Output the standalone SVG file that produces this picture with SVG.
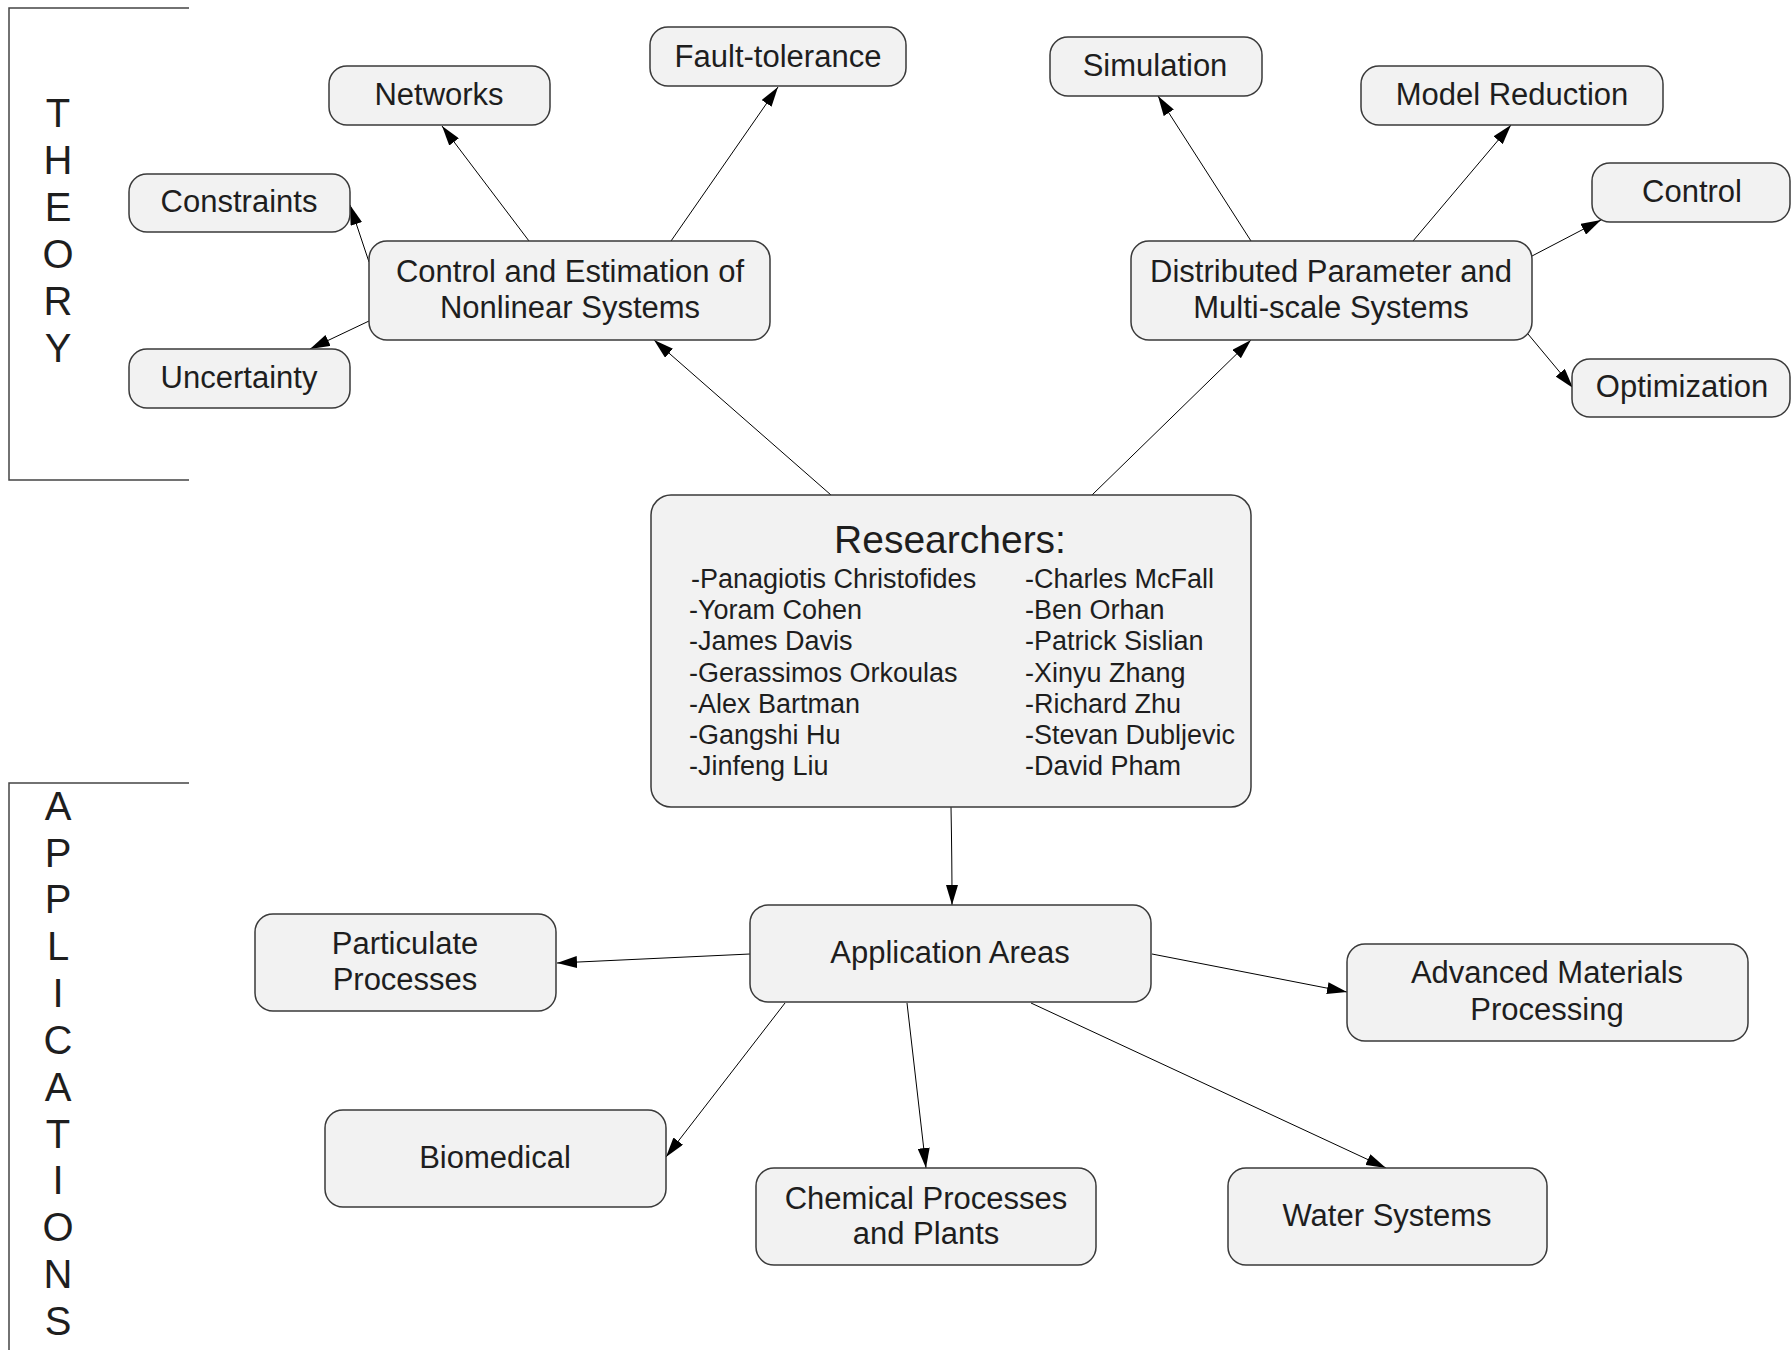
<svg xmlns="http://www.w3.org/2000/svg" width="1792" height="1350" viewBox="0 0 1792 1350">
  <style>
    .box { fill: #f2f2f2; stroke: #3a3a3a; stroke-width: 1.5; }
    .lbl { font-family: "Liberation Sans", Arial, sans-serif; font-size: 31px; fill: #1e1e1e; text-anchor: middle; }
    .title { font-family: "Liberation Sans", Arial, sans-serif; font-size: 39px; fill: #1e1e1e; text-anchor: middle; }
    .name { font-family: "Liberation Sans", Arial, sans-serif; font-size: 27px; fill: #1e1e1e; }
    .side { font-family: "Liberation Sans", Arial, sans-serif; font-size: 40px; fill: #1e1e1e; text-anchor: middle; }
    .bracket { fill: none; stroke: #444; stroke-width: 1.5; }
    .edge { fill: none; stroke: #000; stroke-width: 1; marker-end: url(#arrow); }
  </style>
  <defs>
    <marker id="arrow" viewBox="0 0 20 12" refX="20" refY="6" markerWidth="20" markerHeight="12" markerUnits="userSpaceOnUse" orient="auto">
      <path d="M0,0 L20,6 L0,12 z" fill="#000"/>
    </marker>
  </defs>
  <rect width="1792" height="1350" fill="#fff"/>

  <!-- section brackets -->
  <g id="theory-label">
    <path class="bracket" d="M189,8 H9 V480 H189"/>
    <text class="side" x="58" y="127">T</text>
    <text class="side" x="58" y="174">H</text>
    <text class="side" x="58" y="221">E</text>
    <text class="side" x="58" y="268">O</text>
    <text class="side" x="58" y="315">R</text>
    <text class="side" x="58" y="362">Y</text>
  </g>
  <g id="applications-label">
    <path class="bracket" d="M189,783 H9 V1350"/>
    <text class="side" x="58" y="820">A</text>
    <text class="side" x="58" y="867">P</text>
    <text class="side" x="58" y="913">P</text>
    <text class="side" x="58" y="960">L</text>
    <text class="side" x="58" y="1007">I</text>
    <text class="side" x="58" y="1054">C</text>
    <text class="side" x="58" y="1101">A</text>
    <text class="side" x="58" y="1148">T</text>
    <text class="side" x="58" y="1194">I</text>
    <text class="side" x="58" y="1241">O</text>
    <text class="side" x="58" y="1288">N</text>
    <text class="side" x="58" y="1335">S</text>
  </g>

  <!-- connectors -->
  <g id="connectors">
    <line class="edge" x1="831" y1="495" x2="654" y2="340"/>
    <line class="edge" x1="1092" y1="495" x2="1251" y2="340"/>
    <line class="edge" x1="529" y1="241" x2="442" y2="126"/>
    <line class="edge" x1="671" y1="241" x2="778" y2="87"/>
    <line class="edge" x1="369" y1="262" x2="350" y2="205"/>
    <line class="edge" x1="369" y1="321" x2="310" y2="349"/>
    <line class="edge" x1="1251" y1="241" x2="1158" y2="96"/>
    <line class="edge" x1="1413" y1="241" x2="1511" y2="125"/>
    <line class="edge" x1="1532" y1="256" x2="1601" y2="220"/>
    <line class="edge" x1="1528" y1="334" x2="1573" y2="388"/>
    <path class="edge" d="M951,807 Q952,860 952,905"/>
    <line class="edge" x1="750" y1="954" x2="557" y2="963"/>
    <line class="edge" x1="785" y1="1003" x2="666" y2="1157"/>
    <line class="edge" x1="907" y1="1003" x2="926" y2="1168"/>
    <line class="edge" x1="1031" y1="1003" x2="1386" y2="1168"/>
    <line class="edge" x1="1152" y1="954" x2="1347" y2="992"/>
  </g>

  <!-- theory nodes -->
  <g id="node-nonlinear">
    <rect class="box" x="369" y="241" width="401" height="99" rx="18"/>
    <text class="lbl" x="570" y="282">Control and Estimation of</text>
    <text class="lbl" x="570" y="318">Nonlinear Systems</text>
  </g>
  <g id="node-networks">
    <rect class="box" x="329" y="66" width="221" height="59" rx="18"/>
    <text class="lbl" x="439" y="105">Networks</text>
  </g>
  <g id="node-fault">
    <rect class="box" x="650" y="27" width="256" height="59" rx="18"/>
    <text class="lbl" x="778" y="67">Fault-tolerance</text>
  </g>
  <g id="node-constraints">
    <rect class="box" x="129" y="174" width="221" height="58" rx="18"/>
    <text class="lbl" x="239" y="212">Constraints</text>
  </g>
  <g id="node-uncertainty">
    <rect class="box" x="129" y="349" width="221" height="59" rx="18"/>
    <text class="lbl" x="239" y="388">Uncertainty</text>
  </g>
  <g id="node-distributed">
    <rect class="box" x="1131" y="241" width="401" height="99" rx="18"/>
    <text class="lbl" x="1331" y="282">Distributed Parameter and</text>
    <text class="lbl" x="1331" y="318">Multi-scale Systems</text>
  </g>
  <g id="node-simulation">
    <rect class="box" x="1050" y="37" width="212" height="59" rx="18"/>
    <text class="lbl" x="1155" y="76">Simulation</text>
  </g>
  <g id="node-model-reduction">
    <rect class="box" x="1361" y="66" width="302" height="59" rx="18"/>
    <text class="lbl" x="1512" y="105">Model Reduction</text>
  </g>
  <g id="node-control">
    <rect class="box" x="1592" y="163" width="198" height="59" rx="18"/>
    <text class="lbl" x="1692" y="202">Control</text>
  </g>
  <g id="node-optimization">
    <rect class="box" x="1572" y="359" width="218" height="58" rx="18"/>
    <text class="lbl" x="1682" y="397">Optimization</text>
  </g>

  <!-- researchers -->
  <g id="node-researchers">
    <rect class="box" x="651" y="495" width="600" height="312" rx="20"/>
    <text class="title" x="950" y="553">Researchers:</text>
    <text class="name" x="691" y="588">-Panagiotis Christofides</text>
    <text class="name" x="689" y="619">-Yoram Cohen</text>
    <text class="name" x="689" y="650">-James Davis</text>
    <text class="name" x="689" y="682">-Gerassimos Orkoulas</text>
    <text class="name" x="689" y="713">-Alex Bartman</text>
    <text class="name" x="689" y="744">-Gangshi Hu</text>
    <text class="name" x="689" y="775">-Jinfeng Liu</text>
    <text class="name" x="1025" y="588">-Charles McFall</text>
    <text class="name" x="1025" y="619">-Ben Orhan</text>
    <text class="name" x="1025" y="650">-Patrick Sislian</text>
    <text class="name" x="1025" y="682">-Xinyu Zhang</text>
    <text class="name" x="1025" y="713">-Richard Zhu</text>
    <text class="name" x="1025" y="744">-Stevan Dubljevic</text>
    <text class="name" x="1025" y="775">-David Pham</text>
  </g>

  <!-- application nodes -->
  <g id="node-applications">
    <rect class="box" x="750" y="905" width="401" height="97" rx="18"/>
    <text class="lbl" x="950" y="963">Application Areas</text>
  </g>
  <g id="node-particulate">
    <rect class="box" x="255" y="914" width="301" height="97" rx="18"/>
    <text class="lbl" x="405" y="954">Particulate</text>
    <text class="lbl" x="405" y="990">Processes</text>
  </g>
  <g id="node-advanced">
    <rect class="box" x="1347" y="944" width="401" height="97" rx="18"/>
    <text class="lbl" x="1547" y="983">Advanced Materials</text>
    <text class="lbl" x="1547" y="1020">Processing</text>
  </g>
  <g id="node-biomedical">
    <rect class="box" x="325" y="1110" width="341" height="97" rx="18"/>
    <text class="lbl" x="495" y="1168">Biomedical</text>
  </g>
  <g id="node-chemical">
    <rect class="box" x="756" y="1168" width="340" height="97" rx="18"/>
    <text class="lbl" x="926" y="1209">Chemical Processes</text>
    <text class="lbl" x="926" y="1244">and Plants</text>
  </g>
  <g id="node-water">
    <rect class="box" x="1228" y="1168" width="319" height="97" rx="18"/>
    <text class="lbl" x="1387" y="1226">Water Systems</text>
  </g>
</svg>
